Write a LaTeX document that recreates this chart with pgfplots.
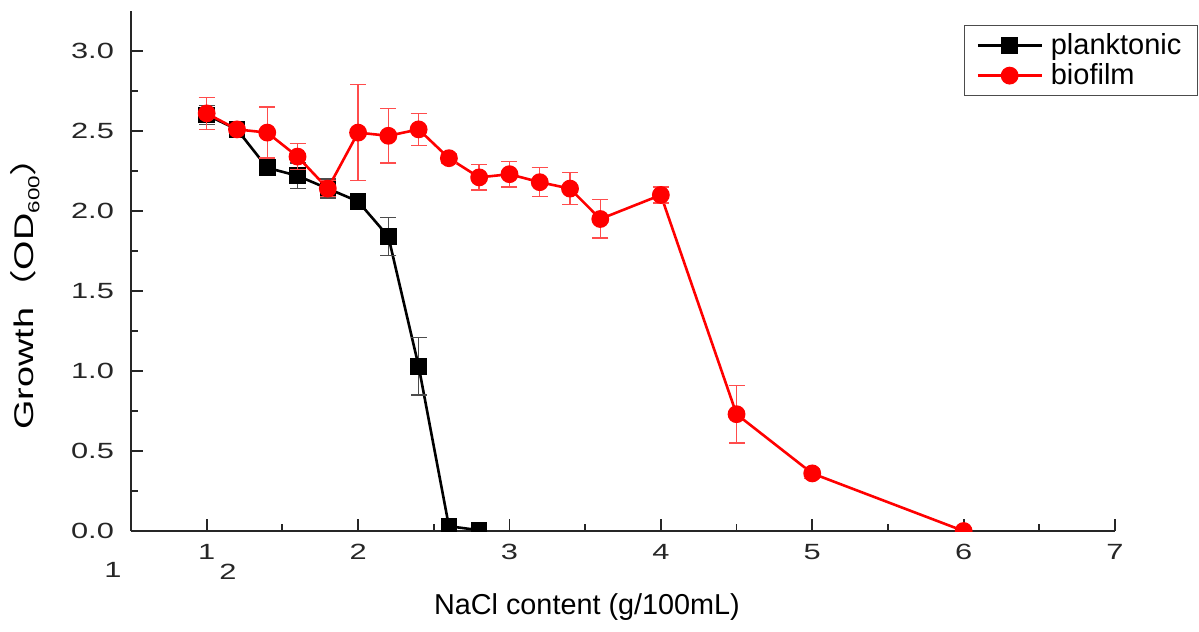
\documentclass[border=0pt]{standalone}
\usepackage{fontspec}
\setmainfont{Liberation Sans}
\newfontfamily\widefont{Liberation Sans}[FakeStretch=1.4]
\newfontfamily\cjk{Noto Sans CJK SC}[FakeStretch=1.4]
\usepackage{pgfplots}
\pgfplotsset{compat=1.18}

\begin{document}
\begin{tikzpicture}
\begin{axis}[name=ax, scale only axis, width=492pt, height=260pt,
  xmin=0.5, xmax=7, ymin=0, ymax=3.25,
  xtick={1,2,3,4,5,6,7}, minor x tick num=1,
  ytick={0,0.5,1,1.5,2,2.5,3}, minor y tick num=1,
  axis x line*=bottom, axis y line*=left,
  axis line style={line width=1pt, black!85, -},
  tick align=inside, tick style={line width=0.9pt, black!85},
  major tick length=6pt, minor tick length=3.5pt,
  /pgf/number format/assume math mode=true,
  ticklabel style={font=\widefont\fontsize{11}{13}\selectfont, text=black!85},
  yticklabel style={/pgf/number format/fixed, /pgf/number format/fixed zerofill, /pgf/number format/precision=1, xshift=-5pt},
  xticklabel style={yshift=-3pt},
  xlabel={NaCl content (g/100mL)},
  xlabel style={font=\fontsize{14.4}{16}\selectfont, at={(axis description cs:0.4634,0)}, anchor=center, yshift=-38pt},
  ylabel={Growth{\cjk （}OD\raisebox{-0.4ex}{\fontsize{8}{8}\selectfont 600}{\cjk ）}},
  ylabel style={font=\widefont\fontsize{13.5}{15}\selectfont, at={(axis description cs:-0.1077,0.475)}, anchor=center},
  clip marker paths=true,
  legend style={at={(rel axis cs:1,1)}, anchor=north east, xshift=41.5pt, yshift=-7pt,
    draw=black!70, line width=0.6pt, font=\fontsize{14.5}{16}\selectfont,
    cells={anchor=west}, inner xsep=6pt, inner ysep=2pt, row sep=-1pt,
    /tikz/every odd column/.append style={column sep=2pt}},
  legend image code/.code={\draw[mark repeat=2,mark phase=2,#1] plot coordinates {(0cm,0cm) (0.56cm,0cm) (1.12cm,0cm)};},
]
\addplot[black, line width=1.3pt, mark=square*, mark size=3.5pt,
  error bars/.cd, y dir=both, y explicit,
  error bar style={line width=0.7pt, black!70},
  error mark options={rotate=90, mark size=4pt, line width=0.7pt, black!70}]
  coordinates {
  (1.0,2.60) +- (0,0.06)
  (1.2,2.51) +- (0,0.02)
  (1.4,2.27) +- (0,0.05)
  (1.6,2.22) +- (0,0.08)
  (1.8,2.14) +- (0,0.06)
  (2.0,2.06) +- (0,0.05)
  (2.2,1.84) +- (0,0.12)
  (2.4,1.03) +- (0,0.18)
  (2.6,0.03) +- (0,0.01)
  (2.8,0.005) +- (0,0)
  };
\addlegendentry{planktonic}
\addplot[red, line width=1.3pt, mark=*, mark size=3.8pt,
  error bars/.cd, y dir=both, y explicit,
  error bar style={line width=0.7pt, red!70},
  error mark options={rotate=90, mark size=4pt, line width=0.7pt, red!70}]
  coordinates {
  (1.0,2.61) +- (0,0.10)
  (1.2,2.51) +- (0,0.02)
  (1.4,2.49) +- (0,0.16)
  (1.6,2.34) +- (0,0.08)
  (1.8,2.14) +- (0,0.05)
  (2.0,2.49) +- (0,0.30)
  (2.2,2.47) +- (0,0.17)
  (2.4,2.51) +- (0,0.10)
  (2.6,2.33) +- (0,0.03)
  (2.8,2.21) +- (0,0.08)
  (3.0,2.23) +- (0,0.08)
  (3.2,2.18) +- (0,0.09)
  (3.4,2.14) +- (0,0.10)
  (3.6,1.95) +- (0,0.12)
  (4.0,2.10) +- (0,0.05)
  (4.5,0.73) +- (0,0.18)
  (5.0,0.36) +- (0,0.03)
  (6.0,0.00) +- (0,0)
  };
\addlegendentry{biofilm}
\end{axis}
\node[font=\widefont\fontsize{11}{13}\selectfont, text=black!85] at ([xshift=-9pt,yshift=-19.5pt]ax.south west) {1};
\node[font=\widefont\fontsize{11}{13}\selectfont, text=black!85] at ([xshift=48.5pt,yshift=-20.5pt]ax.south west) {2};
\pgfresetboundingbox
\path[use as bounding box] ([xshift=-65.5pt,yshift=-50pt]ax.south west) rectangle ([xshift=42pt,yshift=5.5pt]ax.north east);
\end{tikzpicture}
\end{document}
